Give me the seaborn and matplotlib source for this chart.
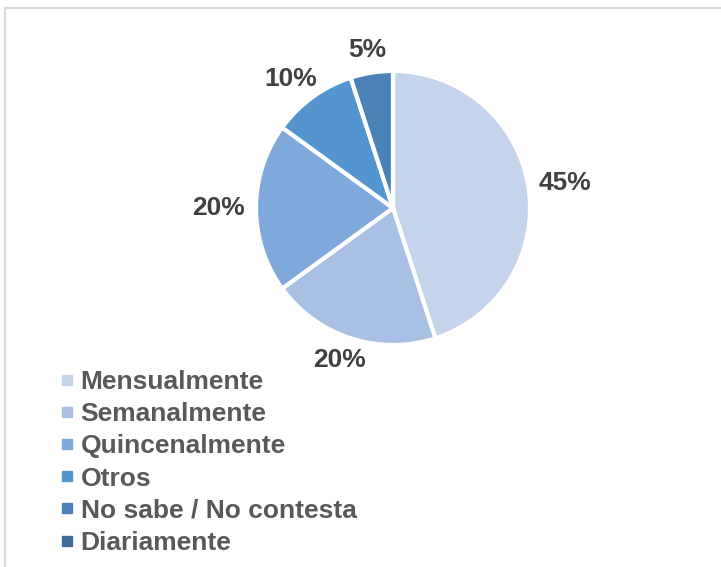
import numpy as np
import matplotlib
matplotlib.use("Agg")
import matplotlib.pyplot as plt
from matplotlib.lines import Line2D
from matplotlib.patches import Rectangle
import seaborn as sns

# Frequency of responses (percent)
categories = ["Mensualmente", "Semanalmente", "Quincenalmente", "Otros",
              "No sabe / No contesta", "Diariamente"]
values = [45, 20, 20, 10, 5, 0]
hex_colors = ["#c4d4ea", "#a7c0e3", "#7ea9da", "#5595cf", "#4a81b7", "#3f6b98"]

sns.set_style("white")
plt.rcParams["font.family"] = ["Liberation Sans", "DejaVu Sans"]
palette = sns.color_palette(hex_colors)

W, H = 721, 567
fig = plt.figure(figsize=(W / 100, H / 100), dpi=100)
ax = fig.add_axes([0, 0, 1, 1])

cx, cy, R = 393, H - 208, 137
wedges, _ = ax.pie(values, colors=palette, startangle=90, counterclock=False,
                   center=(cx, cy), radius=R,
                   wedgeprops=dict(edgecolor="white", linewidth=3))
ax.set_xlim(0, W)
ax.set_ylim(0, H)
ax.set_aspect("equal")
ax.axis("off")

# Outside-end percentage labels
fig.canvas.draw()
renderer = fig.canvas.get_renderer()
gap = 11
total = sum(values)
start = 90.0
for v in values:
    sweep = 360.0 * v / total
    mid = np.deg2rad(start - sweep / 2)
    start -= sweep
    if v == 0:
        continue
    c, s = np.cos(mid), np.sin(mid)
    ax_x = cx + (R + gap) * c
    ax_y = cy + (R + gap) * s
    t = ax.text(ax_x, ax_y, f"{v}%", fontsize=19, fontweight="bold",
                color="#404040", ha="left", va="bottom")
    bb = t.get_window_extent(renderer)
    w, h = bb.width, bb.height
    # shift so the text box sits just outside the pie edge
    t.set_position((ax_x - w * (1 - c) / 2, ax_y - h * (1 - s) / 2))

handles = [Line2D([], [], marker="s", linestyle="none", markersize=7,
                  markerfacecolor=col, markeredgecolor=col) for col in palette]
leg = ax.legend(handles, categories, loc="upper left",
                bbox_to_anchor=(59 / W, 1 - 370 / H), frameon=False,
                handlelength=0.6, handletextpad=0.22, labelspacing=0.31,
                borderpad=0, borderaxespad=0,
                prop=dict(size=19, weight="bold"))
for txt in leg.get_texts():
    txt.set_color("#595959")

# Chart area border
fig.patches.append(Rectangle((5 / W, -0.05), 1.1, 1 - 8 / H + 0.05,
                             transform=fig.transFigure, fill=False,
                             edgecolor="#d9d9d9", linewidth=1.5))

fig.savefig("out.png", dpi=100, facecolor="white")
